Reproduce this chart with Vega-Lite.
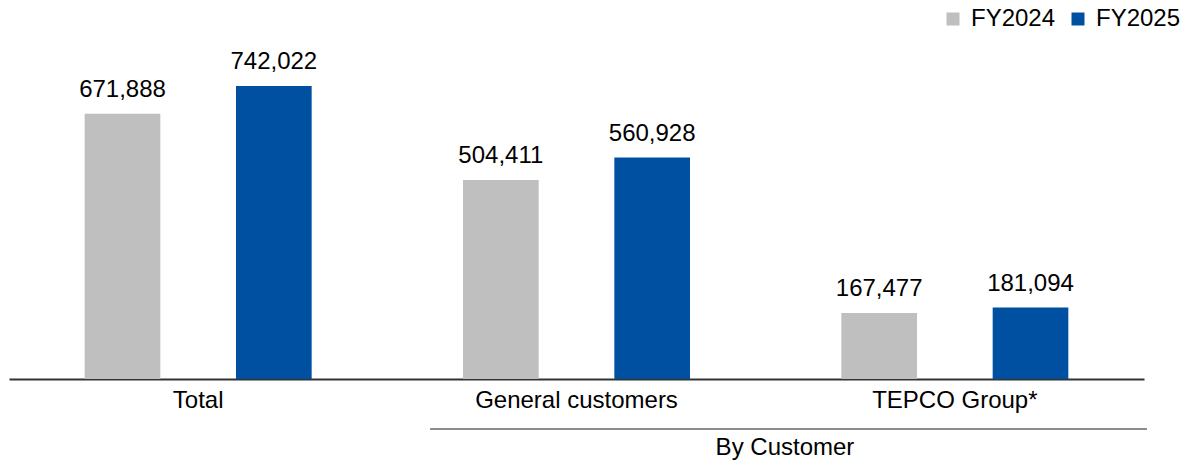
{
  "$schema": "https://vega.github.io/schema/vega-lite/v6.json",
  "padding": {"left": 9, "top": 4, "right": 0, "bottom": 0},
  "config": {"view": {"stroke": null}, "font": "Liberation Sans"},
  "spacing": 7,
  "vconcat": [
    {
      "width": 1135,
      "height": 375,
      "data": {"values": [
        {"category": "Total", "year": "FY2024", "value": 671888},
        {"category": "Total", "year": "FY2025", "value": 742022},
        {"category": "General customers", "year": "FY2024", "value": 504411},
        {"category": "General customers", "year": "FY2025", "value": 560928},
        {"category": "TEPCO Group*", "year": "FY2024", "value": 167477},
        {"category": "TEPCO Group*", "year": "FY2025", "value": 181094}
      ]},
      "encoding": {
        "x": {"field": "category", "type": "nominal",
          "scale": {"domain": ["Total", "General customers", "TEPCO Group*"], "paddingInner": 0, "paddingOuter": 0},
          "axis": {"title": null, "labelAngle": 0, "ticks": false, "domainColor": "#333333", "domainWidth": 2,
            "labelFontSize": 24, "labelColor": "#000000", "labelPadding": 9, "labelLimit": 0, "labelFont": "Liberation Sans", "minExtent": 30, "maxExtent": 30}},
        "xOffset": {"field": "year", "type": "nominal", "scale": {"domain": ["FY2024", "FY2025"], "paddingInner": 0.5, "paddingOuter": 0.5}},
        "y": {"field": "value", "type": "quantitative", "scale": {"domain": [0, 950000]}, "axis": null}
      },
      "layer": [
        {
          "mark": {"type": "bar"},
          "encoding": {
            "color": {"field": "year", "type": "nominal",
              "scale": {"domain": ["FY2024", "FY2025"], "range": ["#bfbfbf", "#0050a2"]},
              "legend": {"title": null, "orient": "none", "legendX": 932, "legendY": 3, "direction": "horizontal",
                "symbolType": "square", "symbolSize": 169, "symbolStrokeWidth": 0, "labelFontSize": 24, "labelColor": "#000000",
                "labelFont": "Liberation Sans", "labelOffset": 6, "columnSpacing": 2, "labelLimit": 0}}
          }
        },
        {
          "mark": {"type": "text", "fontSize": 24, "dy": -17, "baseline": "alphabetic", "color": "#000000"},
          "encoding": {"text": {"field": "value", "type": "quantitative", "format": ",d"}}
        }
      ]
    },
    {
      "width": 1135,
      "height": 20,
      "data": {"values": [{"group": "By Customer", "from": "General customers", "to": "TEPCO Group*"}]},
      "layer": [
        {
          "mark": {"type": "rule", "color": "#666666", "strokeWidth": 1.5},
          "encoding": {
            "x": {"field": "from", "type": "nominal", "bandPosition": 0.113,
              "scale": {"domain": ["Total", "General customers", "TEPCO Group*"], "paddingInner": 0, "paddingOuter": 0}, "axis": null},
            "x2": {"field": "to", "bandPosition": 1.008}
          }
        },
        {
          "mark": {"type": "text", "fontSize": 24, "dy": 19, "baseline": "middle", "color": "#000000"},
          "encoding": {
            "x": {"field": "to", "type": "nominal", "bandPosition": 0.051,
              "scale": {"domain": ["Total", "General customers", "TEPCO Group*"], "paddingInner": 0, "paddingOuter": 0}, "axis": null},
            "text": {"field": "group"}
          }
        }
      ]
    }
  ]
}
